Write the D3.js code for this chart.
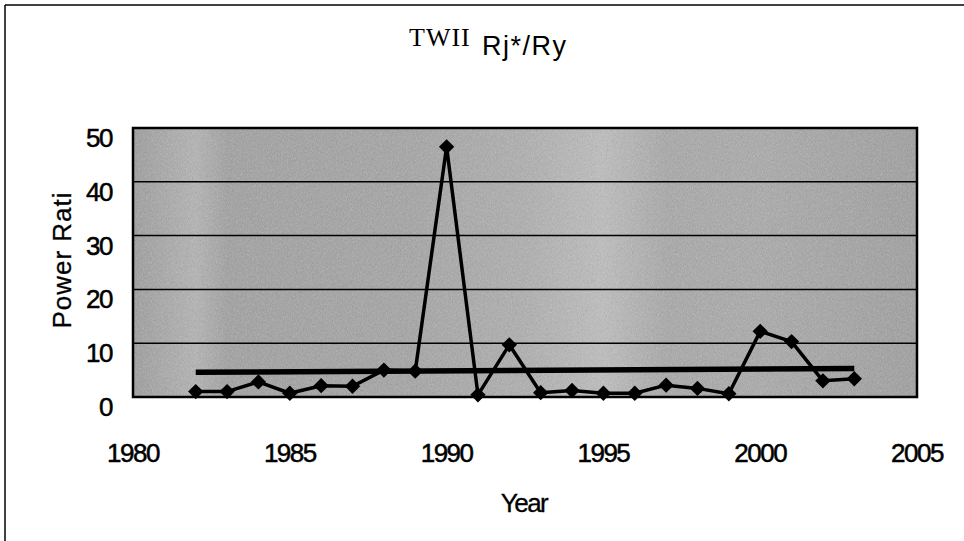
<!DOCTYPE html>
<html>
<head>
<meta charset="utf-8">
<script src="https://cdn.jsdelivr.net/npm/d3@7"></script>
<style>
  body { margin: 0; background: #fff; }
  #chart { width: 964px; height: 541px; }
  .tick-label { font-family: "Liberation Sans", Arial, sans-serif; font-size: 26px; letter-spacing: -1.5px; fill: #000; stroke: #000; stroke-width: 0.5px; }
  .axis-label { font-family: "Liberation Sans", Arial, sans-serif; font-size: 26px; fill: #000; stroke: #000; stroke-width: 0.3px; }
</style>
</head>
<body>
<div id="chart"></div>
<script>
"use strict";

// values
const years = [1982, 1983, 1984, 1985, 1986, 1987, 1988, 1989, 1990, 1991, 1992,
  1993, 1994, 1995, 1996, 1997, 1998, 1999, 2000, 2001, 2002, 2003];
const ratios = [1.0, 1.0, 2.8, 0.7, 2.1, 2.0, 5.0, 4.8, 46.5, 0.4, 9.7,
  0.8, 1.2, 0.7, 0.7, 2.2, 1.6, 0.6, 12.2, 10.3, 3.0, 3.4];
// trend line end points (first and last year)
const trendYears = [1982, 2003];
const trendValues = [4.6, 5.3];
const xTicks = [1980, 1985, 1990, 1995, 2000, 2005];
const yTicks = [0, 10, 20, 30, 40, 50];

window.addEventListener("load", draw);

function draw() {
  const w = 964, h = 541;
  const plot = { left: 133, right: 917, top: 128, bottom: 397 };

  const xScale = d3.scaleLinear().domain([1980, 2005]).range([plot.left, plot.right]);
  const yScale = d3.scaleLinear().domain([0, 50]).range([plot.bottom, plot.top]);

  const svg = d3.select("#chart").append("svg").attr("width", w).attr("height", h);
  const defs = svg.append("defs");

  // scanned grey background, lighter in a few vertical bands
  const grad = defs.append("linearGradient").attr("id", "bg");
  [[0, "#9a9a9a"], [0.08, "#b2b2b2"], [0.12, "#9e9e9e"], [0.35, "#a2a2a2"],
    [0.5, "#adadad"], [0.6, "#bdbdbd"], [0.68, "#a6a6a6"], [0.8, "#a8a8a8"], [1, "#9c9c9c"]]
    .forEach(([o, c]) => grad.append("stop").attr("offset", o).attr("stop-color", c));

  // grain, kept inside the plot rect
  const noise = defs.append("filter").attr("id", "grain")
    .attr("x", 0).attr("y", 0).attr("width", 1).attr("height", 1);
  noise.append("feTurbulence").attr("type", "fractalNoise")
    .attr("baseFrequency", "1.2 0.5").attr("numOctaves", 2);
  noise.append("feColorMatrix").attr("type", "saturate").attr("values", 0);

  // outer frame (only top and left edges show in the scan)
  svg.append("line").attr("x1", 5).attr("x2", w).attr("y1", 5).attr("y2", 5)
    .attr("stroke", "#000").attr("stroke-width", 1.5);
  svg.append("line").attr("x1", 5).attr("x2", 5).attr("y1", 5).attr("y2", h)
    .attr("stroke", "#000").attr("stroke-width", 1.5);

  // title
  const title = svg.append("text").attr("x", 409).attr("y", 46);
  title.append("tspan").text("TWII")
    .style("font-family", "'Liberation Serif', 'Times New Roman', serif")
    .style("font-size", "26px").style("letter-spacing", "1px");
  title.append("tspan").text("Rj*/Ry").attr("x", 482).attr("dy", 9)
    .style("font-family", "'Liberation Sans', Arial, sans-serif")
    .style("font-size", "27px").style("letter-spacing", "1.5px");

  // plot area
  svg.append("rect").attr("x", plot.left).attr("y", plot.top)
    .attr("width", plot.right - plot.left).attr("height", plot.bottom - plot.top)
    .attr("fill", "url(#bg)");
  svg.append("rect").attr("x", plot.left).attr("y", plot.top)
    .attr("width", plot.right - plot.left).attr("height", plot.bottom - plot.top)
    .attr("filter", "url(#grain)").attr("opacity", 0.45);

  // gridlines
  svg.append("g").selectAll("line").data(yTicks.slice(1, -1)).enter().append("line")
    .attr("x1", plot.left).attr("x2", plot.right)
    .attr("y1", (d) => yScale(d)).attr("y2", (d) => yScale(d))
    .attr("stroke", "#000").attr("stroke-width", 1.5);

  svg.append("rect").attr("x", plot.left).attr("y", plot.top)
    .attr("width", plot.right - plot.left).attr("height", plot.bottom - plot.top)
    .attr("fill", "none").attr("stroke", "#000").attr("stroke-width", 2.5);

  // y tick labels (sit a little below their gridline in the scan)
  svg.append("g").selectAll("text").data(yTicks).enter().append("text")
    .attr("class", "tick-label")
    .attr("x", 112).attr("y", (d) => yScale(d) + 19)
    .attr("text-anchor", "end").text((d) => d);

  // x tick labels
  svg.append("g").selectAll("text").data(xTicks).enter().append("text")
    .attr("class", "tick-label")
    .attr("x", (d) => xScale(d)).attr("y", 462)
    .attr("text-anchor", "middle").text((d) => d);

  svg.append("text").attr("class", "axis-label").text("Year")
    .attr("x", 524).attr("y", 512).attr("text-anchor", "middle")
    .style("letter-spacing", "-1.5px");

  svg.append("text").attr("class", "axis-label").text("Power Rati")
    .attr("text-anchor", "middle")
    .attr("transform", "translate(71, 260) rotate(-90)")
    .style("letter-spacing", "1px");

  // trend line
  const trend = trendYears.map((y, i) => [y, trendValues[i]]);
  svg.append("path").datum(trend)
    .attr("d", d3.line().x((d) => xScale(d[0])).y((d) => yScale(d[1])))
    .attr("stroke", "#000").attr("stroke-width", 5.5).attr("fill", "none");

  // series line and diamonds
  const pts = years.map((y, i) => [y, ratios[i]]);
  svg.append("path").datum(pts)
    .attr("d", d3.line().x((d) => xScale(d[0])).y((d) => yScale(d[1])))
    .attr("stroke", "#000").attr("stroke-width", 3.5).attr("fill", "none")
    .attr("stroke-linejoin", "round");

  svg.append("g").selectAll("path").data(pts).enter().append("path")
    .attr("d", d3.symbol(d3.symbolDiamond2, 150)())
    .attr("transform", (d) => `translate(${xScale(d[0])},${yScale(d[1])})`)
    .attr("fill", "#000");
}
</script>
</body>
</html>
